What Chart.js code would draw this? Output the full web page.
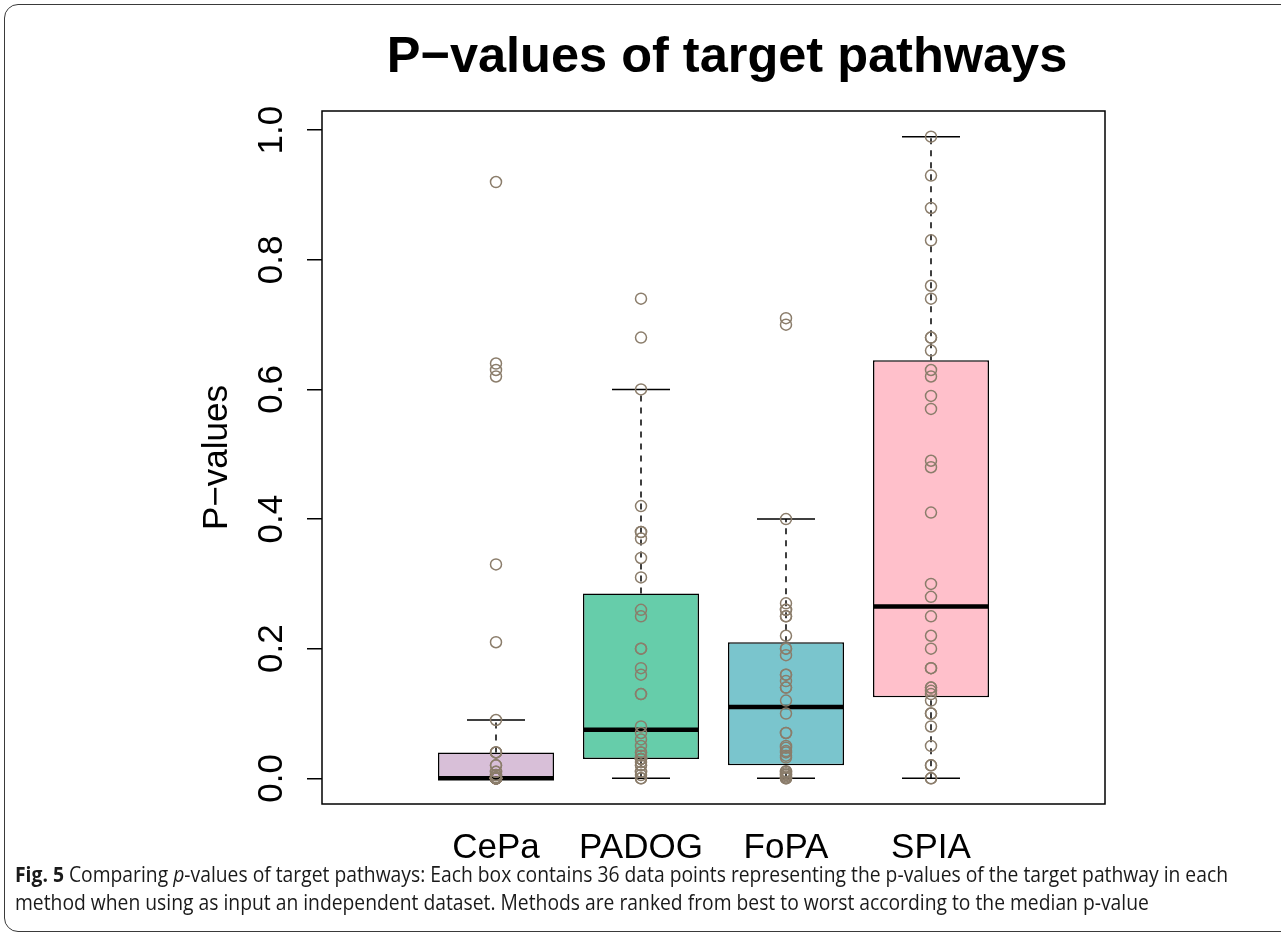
<!DOCTYPE html>
<html>
<head>
<meta charset="utf-8">
<title>P-values of target pathways</title>
<script src="https://cdn.jsdelivr.net/npm/chart.js@4.4.1/dist/chart.umd.min.js"></script>
<style>
  html, body { margin: 0; padding: 0; background: #ffffff; }
  #wrap { position: relative; width: 1281px; height: 936px; overflow: hidden; }
  #frame {
    position: absolute; left: 4px; top: 4px; width: 1320px; height: 928px;
    border: 1.5px solid #3a3a3a; border-radius: 14px; box-sizing: border-box;
  }
  #chart { position: absolute; left: 0; top: 0; }
  #caption {
    position: absolute; left: 15px; top: 860px;
    font-family: "Open Sans", "Noto Sans", sans-serif; font-size: 21px; line-height: 28px;
    color: #1a1a1a; white-space: nowrap; transform-origin: 0 0;
  }
  #caption b { font-weight: 700; }
</style>
</head>
<body>
<div id="wrap">
  <div id="frame"></div>
  <canvas id="chart" width="1281" height="936"></canvas>
  <div id="caption"><span id="line1"><b>Fig. 5</b> Comparing <i>p</i>-values of target pathways: Each box contains 36 data points representing the p-values of the target pathway in each</span><br><span id="line2">method when using as input an independent dataset. Methods are ranked from best to worst according to the median p-value</span></div>
</div>
<script>
// Methods, ranked by median p-value
const categories = ['CePa', 'PADOG', 'FoPA', 'SPIA'];
const boxColors = ['#D8BFD8', '#66CDAA', '#7AC5CD', '#FFC0CB'];

// p-value of the target pathway for each of the 36 datasets
const cepaValues = [0.92, 0.64, 0.63, 0.62, 0.33, 0.21, 0.09, 0.04, 0.04, 0.04, 0.02, 0.02,
  0.01, 0.01, 0.005, 0.005, 0.002, 0, 0, 0, 0, 0, 0, 0, 0, 0, 0, 0, 0, 0, 0, 0, 0, 0, 0, 0];
const padogValues = [0.74, 0.68, 0.60, 0.42, 0.38, 0.38, 0.37, 0.34, 0.31, 0.26, 0.25, 0.20,
  0.20, 0.17, 0.16, 0.13, 0.13, 0.08, 0.07, 0.06, 0.05, 0.04, 0.04, 0.035, 0.03, 0.03, 0.03,
  0.03, 0.025, 0.02, 0.02, 0.01, 0.01, 0.005, 0, 0];
const fopaValues = [0.71, 0.70, 0.40, 0.27, 0.26, 0.26, 0.25, 0.25, 0.22, 0.20, 0.20, 0.19,
  0.16, 0.16, 0.15, 0.14, 0.14, 0.12, 0.10, 0.07, 0.07, 0.05, 0.047, 0.042, 0.04, 0.035, 0.032,
  0.011, 0.01, 0.008, 0.006, 0.005, 0.003, 0.001, 0, 0];
const spiaValues = [0.99, 0.93, 0.88, 0.83, 0.76, 0.74, 0.68, 0.68, 0.66, 0.63, 0.62, 0.59,
  0.57, 0.49, 0.48, 0.41, 0.30, 0.28, 0.25, 0.22, 0.20, 0.17, 0.17, 0.14, 0.14, 0.135, 0.13,
  0.12, 0.10, 0.10, 0.08, 0.05, 0.02, 0.02, 0, 0];

// Box statistics per method: hinges, medians and whisker ends
const lowerHinge   = [0.000, 0.030, 0.020, 0.125];
const medians      = [0.000, 0.075, 0.110, 0.265];
const upperHinge   = [0.040, 0.285, 0.210, 0.645];
const lowerWhisker = [0.000, 0.000, 0.000, 0.000];
const upperWhisker = [0.090, 0.600, 0.400, 0.990];

// Axis ticks
const yTickValues = [0.0, 0.2, 0.4, 0.6, 0.8, 1.0];
const xTickLabels = categories;

const pointSets = [cepaValues, padogValues, fopaValues, spiaValues];
const positions = categories.map((_, i) => i + 1);
const BOX_HALF = 0.4;
const CAP_HALF = 0.2;
const FONT = '"Liberation Sans", Arial, Helvetica, sans-serif';

const boxData = positions.map((x, i) => ({ x, y: [lowerHinge[i], upperHinge[i]] }));
const medianData = positions.flatMap((x, i) => [
  { x: x - BOX_HALF, y: medians[i] }, { x: x + BOX_HALF, y: medians[i] }, { x: x + 0.5, y: null }
]);
const whiskerData = positions.flatMap((x, i) => [
  { x, y: upperHinge[i] }, { x, y: upperWhisker[i] }, { x, y: null },
  { x, y: lowerWhisker[i] }, { x, y: lowerHinge[i] }, { x, y: null }
]);
const capData = positions.flatMap((x, i) => [
  { x: x - CAP_HALF, y: upperWhisker[i] }, { x: x + CAP_HALF, y: upperWhisker[i] }, { x, y: null },
  { x: x - CAP_HALF, y: lowerWhisker[i] }, { x: x + CAP_HALF, y: lowerWhisker[i] }, { x, y: null }
]);
const pointData = positions.flatMap((x, i) => pointSets[i].map(v => ({ x, y: v })));

// Plot frame and main title
const framePlugin = {
  id: 'frame',
  afterDraw(chart) {
    const { ctx, chartArea: a } = chart;
    ctx.save();
    ctx.strokeStyle = '#000';
    ctx.lineWidth = 1.5;
    ctx.strokeRect(a.left, a.top, a.right - a.left, a.bottom - a.top);
    ctx.fillStyle = '#000';
    ctx.font = 'bold 50.5px ' + FONT;
    ctx.textAlign = 'center';
    ctx.textBaseline = 'alphabetic';
    ctx.fillText('P\u2212values of target pathways', 727, 72);
    ctx.restore();
  }
};

new Chart(document.getElementById('chart'), {
  type: 'bar',
  data: {
    datasets: [
      {
        type: 'scatter', data: pointData, order: 0,
        pointStyle: 'circle', pointRadius: 5.5, pointBorderWidth: 1.5,
        pointBorderColor: '#8B7D6B', pointBackgroundColor: 'rgba(0,0,0,0)', showLine: false
      },
      {
        type: 'line', data: medianData, order: 1, borderColor: '#000', borderWidth: 4.5,
        borderCapStyle: 'butt', pointRadius: 0, spanGaps: false, fill: false
      },
      {
        type: 'line', data: capData, order: 2, borderColor: '#000', borderWidth: 1.5,
        pointRadius: 0, spanGaps: false, fill: false
      },
      {
        type: 'line', data: whiskerData, order: 3, borderColor: '#000', borderWidth: 1.5,
        borderDash: [6, 6], pointRadius: 0, spanGaps: false, fill: false
      },
      {
        type: 'bar', data: boxData, order: 4, backgroundColor: boxColors,
        borderColor: '#000', borderWidth: 1.5, borderSkipped: false,
        categoryPercentage: 0.8, barPercentage: 1.0
      }
    ]
  },
  options: {
    responsive: false,
    devicePixelRatio: 1,
    animation: false,
    events: [],
    layout: { padding: { top: 111, right: 176, bottom: 72, left: 0 } },
    plugins: { legend: { display: false }, tooltip: { enabled: false }, title: { display: false } },
    scales: {
      x: {
        type: 'linear', min: -0.2, max: 5.2, offset: false,
        grid: { display: false, drawTicks: false, offset: false },
        border: { display: false },
        afterBuildTicks: s => { s.ticks = positions.map(v => ({ value: v })); },
        ticks: {
          callback: v => xTickLabels[v - 1] ?? '',
          font: { family: FONT, size: 35 }, color: '#000', padding: 23,
          maxRotation: 0, autoSkip: false
        },
        afterFit: s => { s.height = 60; }
      },
      y: {
        type: 'linear', min: -0.0396, max: 1.0296,
        afterBuildTicks: s => { s.ticks = yTickValues.map(v => ({ value: v })); },
        grid: { drawOnChartArea: false, drawTicks: true, tickLength: 15, color: '#000', lineWidth: 1.5 },
        border: { display: false },
        ticks: {
          callback: v => Number(v).toFixed(1),
          minRotation: 90, maxRotation: 90, crossAlign: 'center', padding: 10,
          font: { family: FONT, size: 35 }, color: '#000', autoSkip: false
        },
        title: {
          display: true, text: 'P\u2212values', color: '#000',
          font: { family: FONT, size: 35 }, padding: { top: 196, bottom: 0 }
        },
        afterFit: s => { s.width = 322; }
      }
    }
  },
  plugins: [framePlugin]
});

// Fit each caption line to the printed width
(function () {
  const cap = document.getElementById('caption');
  const w = document.getElementById('line1').getBoundingClientRect().width;
  cap.style.transform = 'scaleX(' + (1213 / w) + ')';
})();
</script>
</body>
</html>
